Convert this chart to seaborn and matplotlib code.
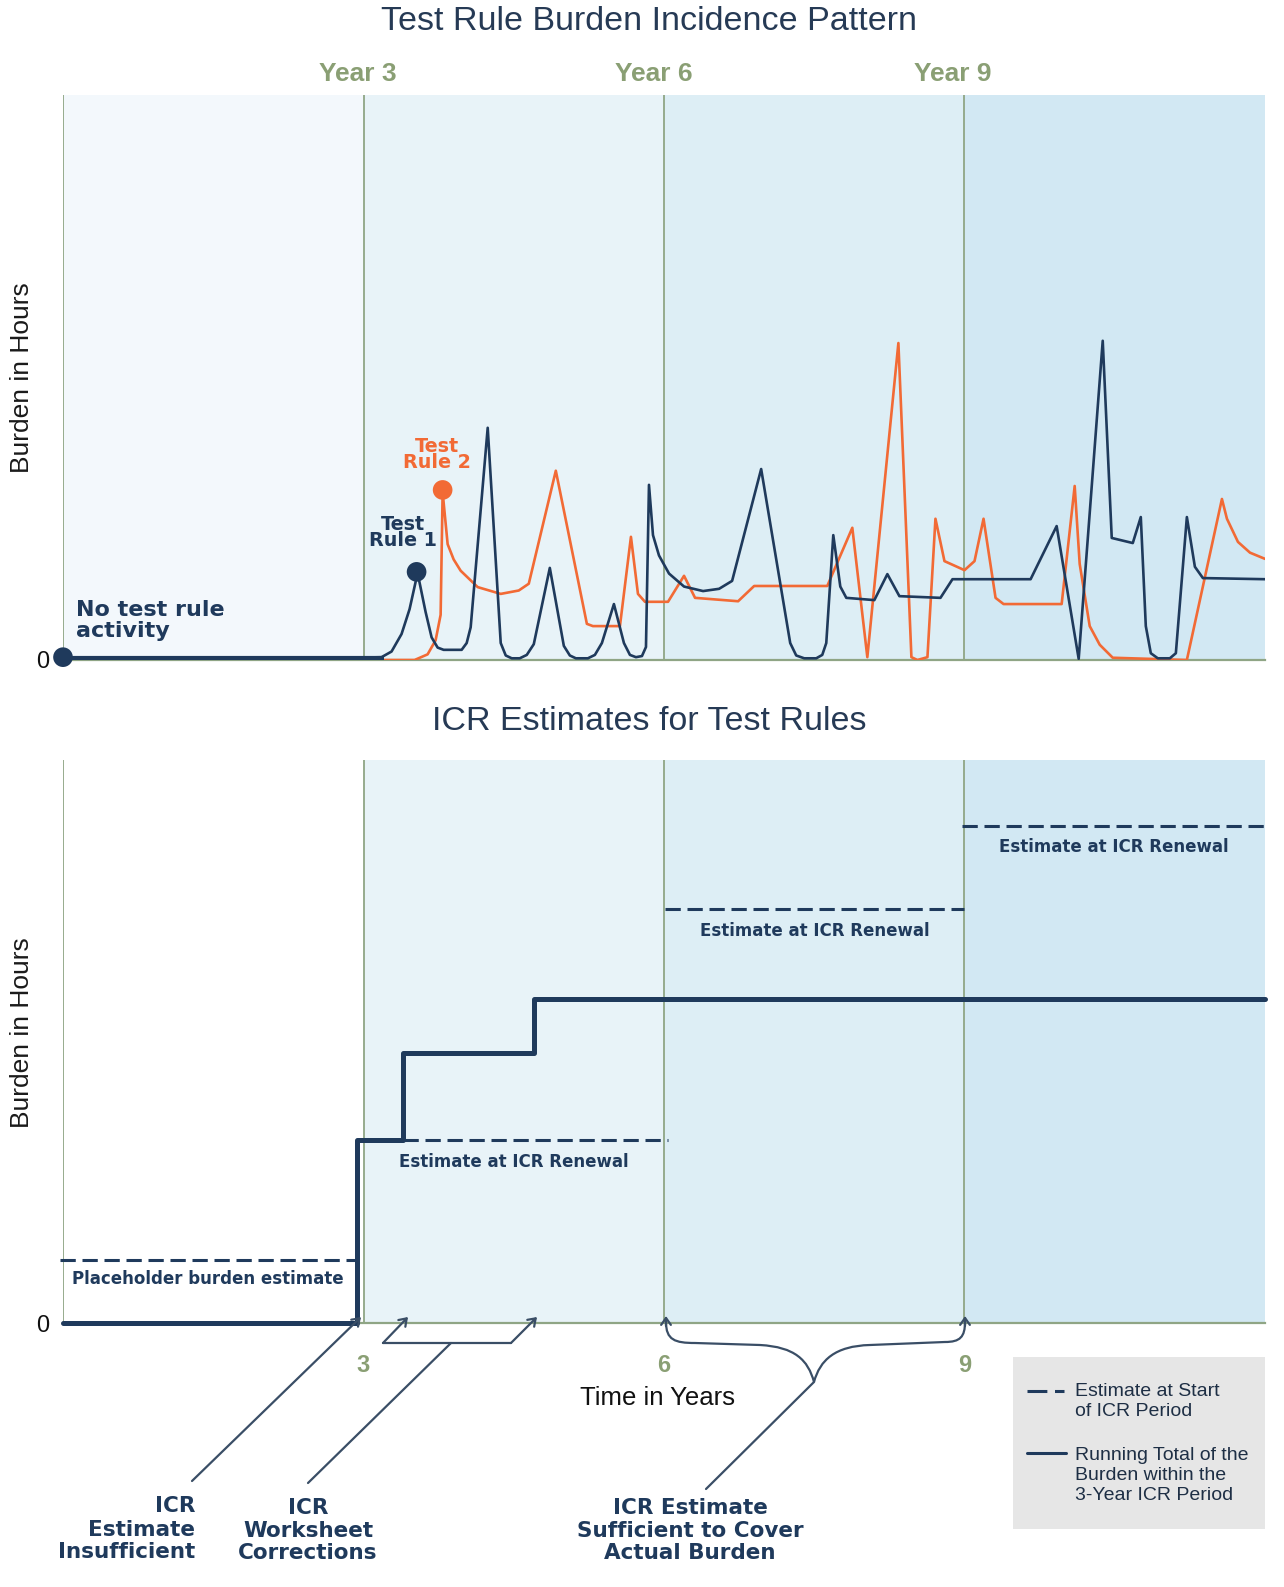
import numpy as np
import pandas as pd
import matplotlib
matplotlib.use("Agg")
import matplotlib.pyplot as plt
import seaborn as sns
from matplotlib.patches import Rectangle, PathPatch
from matplotlib.path import Path

# ---------------- data ----------------
period_edges = [0, 3, 6, 9, 12]
year_marks = [3, 6, 9]
year_labels = ["Year 3", "Year 6", "Year 9"]

rule1_t = [0.0, 2.70, 3.18, 3.28, 3.38, 3.46, 3.54, 3.62, 3.68, 3.74, 3.80, 3.98, 4.03, 4.07,
           4.24, 4.37, 4.42, 4.48, 4.56, 4.63, 4.70, 4.86, 5.00, 5.06, 5.12, 5.24, 5.31, 5.38,
           5.50, 5.60, 5.66, 5.72, 5.78, 5.82, 5.85, 5.89, 5.95, 6.05, 6.20, 6.39, 6.55, 6.68,
           6.97, 7.26, 7.32, 7.40, 7.52, 7.58, 7.62, 7.69, 7.76, 7.82, 8.10, 8.23, 8.35, 8.76,
           8.88, 9.66, 9.92, 10.14, 10.38, 10.47, 10.68, 10.76, 10.81, 10.86, 10.93, 11.05,
           11.11, 11.22, 11.30, 11.38, 12.0]
rule1_h = [0.3, 0.3, 0.5, 1.5, 4.6, 9.0, 15.4, 8.5, 4.0, 2.2, 1.8, 1.8, 3.0, 5.8,
           41.1, 3.0, 0.8, 0.3, 0.3, 0.9, 2.8, 16.3, 2.5, 0.8, 0.3, 0.3, 0.9, 3.0,
           9.9, 3.0, 0.9, 0.5, 0.7, 2.3, 31.0, 22.1, 18.5, 15.3, 13.0, 12.2, 12.6, 14.0,
           33.8, 3.0, 0.8, 0.3, 0.3, 0.9, 3.0, 22.1, 13.0, 11.0, 10.6, 15.2, 11.3, 11.0,
           14.3, 14.3, 23.7, 0.2, 56.5, 21.6, 20.7, 25.3, 6.0, 1.2, 0.3, 0.3,
           1.2, 25.3, 16.5, 14.5, 14.3]

rule2_t = [0.0, 3.51, 3.64, 3.72, 3.77, 3.79, 3.84, 3.90, 3.97, 4.14, 4.37, 4.55, 4.65, 4.92,
           5.23, 5.29, 5.56, 5.67, 5.74, 5.81, 6.04, 6.20, 6.31, 6.74, 6.90, 7.63, 7.88, 8.03,
           8.34, 8.47, 8.53, 8.63, 8.71, 8.80, 9.00, 9.10, 9.19, 9.31, 9.39, 9.97, 10.10, 10.15,
           10.25, 10.35, 10.48, 11.22, 11.57, 11.62, 11.73, 11.85, 12.0]
rule2_h = [0.0, 0.0, 1.0, 3.5, 8.0, 29.7, 20.5, 17.8, 15.8, 12.9, 11.7, 12.3, 13.5, 33.5,
           6.4, 6.0, 6.0, 21.8, 11.7, 10.3, 10.3, 14.9, 11.0, 10.4, 13.1, 13.1, 23.4, 0.5,
           56.1, 0.5, 0.0, 0.5, 25.0, 17.5, 15.9, 17.5, 25.0, 11.0, 9.9, 9.9, 30.8, 17.0,
           6.0, 2.7, 0.4, 0.0, 28.5, 25.0, 20.9, 19.0, 17.9]

start_t = [0.0, 3.53, 3.79]
start_h = [0.5, 15.6, 30.1]
start_kind = ["none", "rule1", "rule2"]

running_t = [0.0, 2.94, 3.39, 4.70, 12.0]
running_h = [0.0, 32.5, 48.0, 57.5, 57.5]

est_start = [-0.03, 2.96, 6.01, 8.98]
est_end = [2.92, 6.04, 9.00, 12.0]
est_value = [11.2, 32.5, 73.5, 88.3]
est_labels = ["Placeholder burden estimate", "Estimate at ICR Renewal",
              "Estimate at ICR Renewal", "Estimate at ICR Renewal"]

# ---------------- style ----------------
NAVY = "#1f3a5c"
ORANGE = "#f26a35"
OLIVE = "#8a9f74"
GRID = "#8fa585"
LINEC = "#3a4e66"
top_bands = ["#f3f8fc", "#e8f3f8", "#ddeef5", "#d2e8f3"]
bot_bands = ["#ffffff", "#e8f3f8", "#ddeef5", "#d2e8f3"]

sns.set_style("white")
plt.rcParams["font.family"] = ["Liberation Sans", "DejaVu Sans"]
BOLD = dict(family=["DejaVu Sans"], weight="bold")

W, H = 1284, 1587
fig = plt.figure(figsize=(W / 100, H / 100), dpi=100)


def ax_rect(l, t, r, b):
    return [l / W, 1 - b / H, (r - l) / W, (b - t) / H]


ax1 = fig.add_axes(ax_rect(63, 95, 1265, 660))
ax2 = fig.add_axes(ax_rect(63, 760, 1265, 1323))

for ax, bands in [(ax1, top_bands), (ax2, bot_bands)]:
    ax.set_xlim(0, 12)
    ax.set_ylim(0, 100)
    for i in range(4):
        ax.axvspan(period_edges[i], period_edges[i + 1], color=bands[i], lw=0, zorder=0)
    for v in [0] + year_marks:
        ax.axvline(v, color=GRID, lw=1.3, zorder=1)
    for s in ["top", "right", "left"]:
        ax.spines[s].set_visible(False)
    ax.spines["bottom"].set_color(GRID)
    ax.spines["bottom"].set_linewidth(1.6)
    ax.set_yticks([0])
    ax.set_yticklabels(["0"], fontsize=17, color="#111111")
    ax.tick_params(axis="y", length=0, pad=10)

# ---- top chart ----
ax1.set_xticks([])
sns.lineplot(x=rule2_t, y=rule2_h, ax=ax1, color=ORANGE, lw=1.9, estimator=None, sort=False, zorder=3)
sns.lineplot(x=rule1_t, y=rule1_h, ax=ax1, color=NAVY, lw=1.9, estimator=None, sort=False, zorder=4)
ax1.plot([0, 3.2], [0.3, 0.3], color=NAVY, lw=3, zorder=4, solid_capstyle="butt")
sns.scatterplot(x=start_t, y=start_h, hue=start_kind, ax=ax1,
                palette={"none": NAVY, "rule1": NAVY, "rule2": ORANGE},
                s=200, edgecolor="none", legend=False, zorder=6, clip_on=False)
ax1.set_xlabel("")
ax1.set_ylabel("")

# ---- bottom chart ----
ax2.set_xticks(year_marks)
ax2.set_xticklabels([str(v) for v in year_marks], fontsize=17, fontweight="bold", color=OLIVE)
ax2.tick_params(axis="x", length=0, pad=22)
sns.lineplot(x=running_t, y=running_h, ax=ax2, color=NAVY, lw=3.6, estimator=None,
             drawstyle="steps-post", zorder=4, clip_on=False)
for s, e, v, lab in zip(est_start, est_end, est_value, est_labels):
    sns.lineplot(x=[s, e], y=[v, v], ax=ax2, color=NAVY, lw=2.2, estimator=None,
                 linestyle=(0, (5.0, 2.2)), zorder=5, clip_on=False)
    off = -13.5 if v < 20 else -15.5
    ax2.annotate(lab, xy=((s + e) / 2, v), xytext=(0, off), textcoords="offset points",
                 ha="center", va="center", fontsize=12, color=NAVY, **BOLD)
ax2.set_xlabel("")
ax2.set_ylabel("")

# ---- overlay for titles & annotations (pixel coordinates) ----
ov = fig.add_axes([0, 0, 1, 1], zorder=10)
ov.set_xlim(0, W)
ov.set_ylim(H, 0)
ov.axis("off")
ov.patch.set_alpha(0)

ov.text(649, 22, "Test Rule Burden Incidence Pattern", ha="center", va="center",
        fontsize=24.5, color="#263a55")
ov.text(649, 721, "ICR Estimates for Test Rules", ha="center", va="center",
        fontsize=24.5, color="#263a55")
for x, lab in zip([358, 654, 953], year_labels):
    ov.text(x, 74, lab, ha="center", va="center", fontsize=19, fontweight="bold", color=OLIVE)
for y in [378, 1033]:
    ov.text(22, y, "Burden in Hours", ha="center", va="center", rotation=90,
            fontsize=19, color="#1a1a1a")
ov.text(657, 1398, "Time in Years", ha="center", va="center", fontsize=18.5, color="#111111")


def stack(x, ys, lines, ha, color=NAVY, size=15.5):
    for y, s in zip(ys, lines):
        ov.text(x, y, s, ha=ha, va="center", fontsize=size, color=color, **BOLD)


stack(76, [610, 631], ["No test rule", "activity"], "left", size=16)
stack(403, [525, 541], ["Test", "Rule 1"], "center", size=13.8)
stack(437, [446, 462], ["Test", "Rule 2"], "center", color=ORANGE, size=13.8)
stack(195, [1506, 1530, 1552], ["ICR", "Estimate", "Insufficient"], "right")
stack(308, [1508, 1531, 1553], ["ICR", "Worksheet", "Corrections"], "center")
stack(690, [1508, 1531, 1553], ["ICR Estimate", "Sufficient to Cover", "Actual Burden"], "center")

arw = dict(arrowstyle="->,head_length=0.5,head_width=0.35", color=LINEC, lw=1.6,
           shrinkA=0, shrinkB=0)
ov.annotate("", xy=(361, 1317), xytext=(192, 1481), arrowprops=arw)
ov.annotate("", xy=(408, 1317), xytext=(383, 1343), arrowprops=arw)
ov.annotate("", xy=(537, 1317), xytext=(511, 1343), arrowprops=arw)
ov.plot([383, 511], [1343, 1343], color=LINEC, lw=1.6)
ov.plot([451, 308], [1343, 1483], color=LINEC, lw=1.6)

brace = Path([(666, 1322), (666, 1340), (675, 1343), (695, 1343),
              (760, 1345),
              (795, 1347), (808, 1360), (814, 1382),
              (820, 1360), (835, 1346), (870, 1345),
              (945, 1342),
              (960, 1342), (965, 1337), (965, 1322)],
             [Path.MOVETO, Path.CURVE4, Path.CURVE4, Path.CURVE4,
              Path.LINETO,
              Path.CURVE4, Path.CURVE4, Path.CURVE4,
              Path.CURVE4, Path.CURVE4, Path.CURVE4,
              Path.LINETO,
              Path.CURVE4, Path.CURVE4, Path.CURVE4])
ov.add_patch(PathPatch(brace, facecolor="none", edgecolor=LINEC, lw=1.6))
ov.annotate("", xy=(666, 1316), xytext=(666, 1326), arrowprops=arw)
ov.annotate("", xy=(965, 1316), xytext=(965, 1326), arrowprops=arw)
ov.plot([814, 706], [1382, 1489], color=LINEC, lw=1.6)

# legend box
ov.add_patch(Rectangle((1013, 1357), 252, 172, facecolor="#e6e6e6", edgecolor="none"))
ov.plot([1027, 1064], [1391, 1391], color=NAVY, lw=2.2, linestyle=(0, (6.5, 2.5)))
ov.plot([1027, 1066], [1453, 1453], color=NAVY, lw=2.2)
for y, s in zip([1391, 1411, 1455, 1475, 1495],
                ["Estimate at Start", "of ICR Period", "Running Total of the",
                 "Burden within the", "3-Year ICR Period"]):
    ov.text(1075, y, s, ha="left", va="center", fontsize=14, color="#1e2f45")

fig.savefig("out.png", dpi=100)
